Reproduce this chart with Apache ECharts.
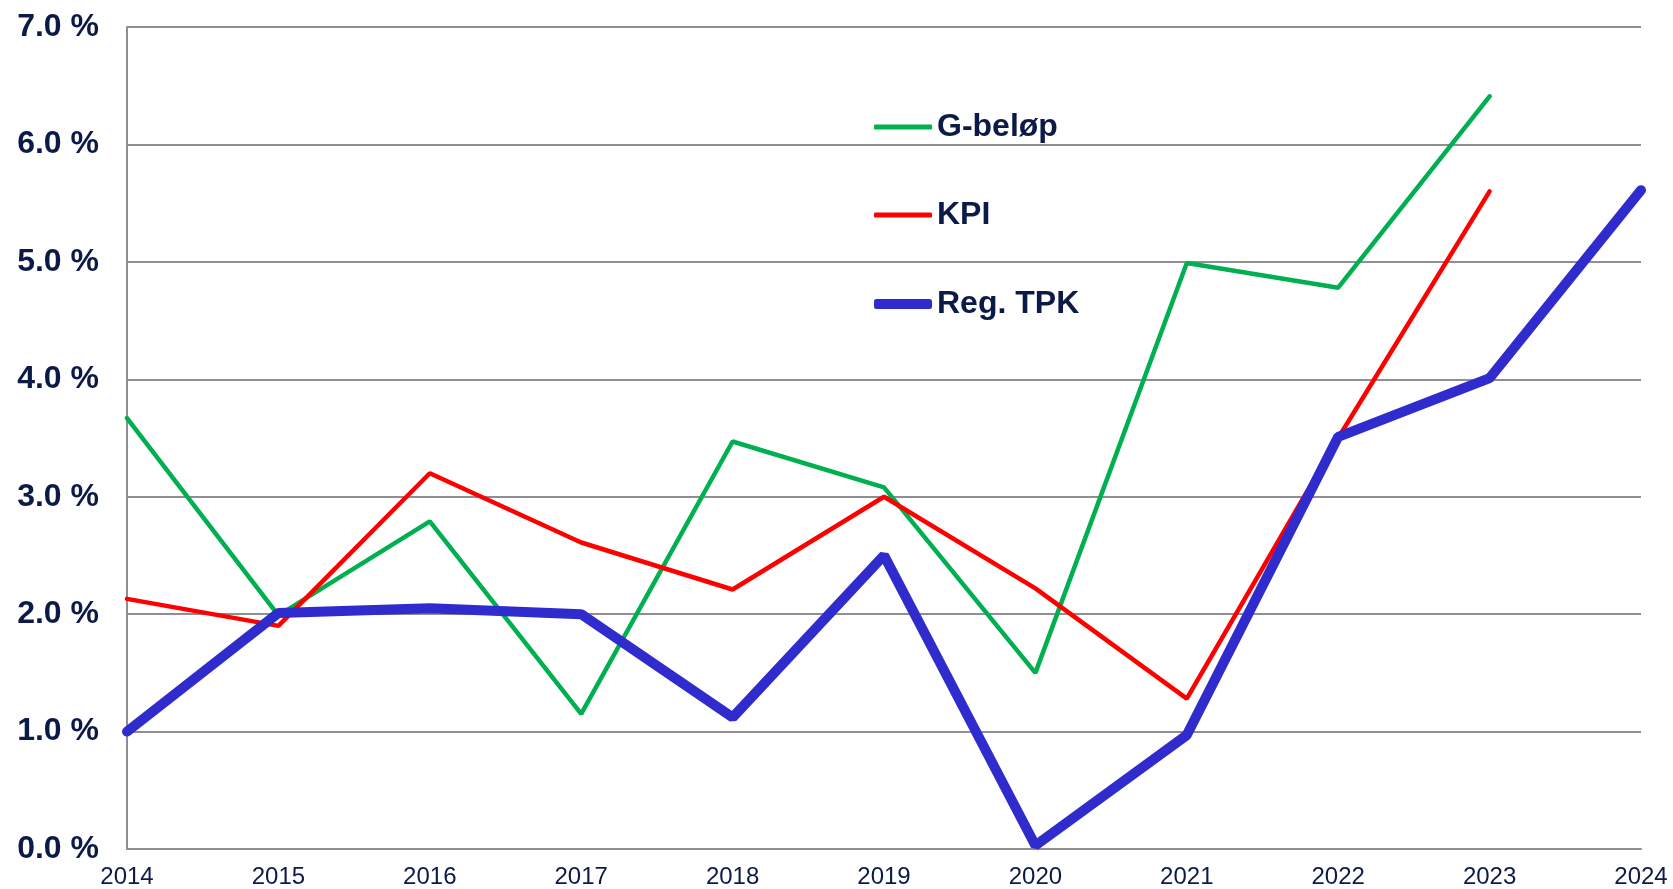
<!DOCTYPE html>
<html>
<head>
<meta charset="utf-8">
<title>G-beløp, KPI og Reg. TPK</title>
<script src="https://cdn.jsdelivr.net/npm/echarts@6/dist/echarts.min.js"></script>
<style>
  html, body { margin: 0; padding: 0; background: #fff; }
  #chart { width: 1673px; height: 889px; }
</style>
</head>
<body>
<div id="chart"></div>
<script>
// årstall på x-aksen
const years = ['2014', '2015', '2016', '2017', '2018', '2019', '2020', '2021', '2022', '2023', '2024']

// årlig vekst i prosent
const gBelop = [3.67, 1.99, 2.79, 1.15, 3.47, 3.08, 1.50, 4.99, 4.78, 6.41, null]
const kpi = [2.13, 1.90, 3.20, 2.61, 2.21, 3.00, 2.22, 1.28, 3.50, 5.60, null]
const regTpk = [1.00, 2.01, 2.05, 2.00, 1.12, 2.50, 0.03, 0.97, 3.51, 4.01, 5.61]

const seriesNames = ['G-beløp', 'KPI', 'Reg. TPK']

const navy = '#0c1a48'
const gridGray = '#8e8e93'
const fontFamily = '"Liberation Sans", Arial, sans-serif'

const chart = echarts.init(document.getElementById('chart'))

// én legende per serie slik at strektykkelsen kan følge linjen
function legendFor(name, top, height) {
  return {
    data: [name],
    left: 869,
    top: top,
    icon: 'roundRect',
    itemWidth: 58,
    itemHeight: height,
    selectedMode: false,
    textStyle: {
      color: navy,
      fontSize: 32,
      fontWeight: 'bold',
      fontFamily: fontFamily
    }
  }
}

const option = {
  animation: false,
  backgroundColor: '#fff',
  legend: [
    legendFor(seriesNames[0], 106, 5),
    legendFor(seriesNames[1], 194, 5),
    legendFor(seriesNames[2], 283, 10)
  ],
  grid: {
    left: 127,
    right: 32,
    top: 27,
    bottom: 39,
    containLabel: false
  },
  xAxis: {
    type: 'category',
    data: years,
    boundaryGap: false,
    axisLine: { lineStyle: { color: gridGray, width: 2 } },
    axisTick: { show: false },
    axisLabel: {
      color: navy,
      fontSize: 24,
      fontFamily: fontFamily,
      margin: 16,
      interval: 0
    },
    splitLine: { show: false }
  },
  yAxis: {
    type: 'value',
    min: 0,
    max: 7,
    interval: 1,
    axisLine: { show: true, lineStyle: { color: gridGray, width: 2 } },
    axisTick: { show: false },
    axisLabel: {
      color: navy,
      fontSize: 32,
      fontWeight: 'bold',
      fontFamily: fontFamily,
      margin: 28,
      formatter: v => v.toFixed(1) + ' %'
    },
    splitLine: { lineStyle: { color: gridGray, width: 2 } }
  },
  series: [
    {
      name: seriesNames[0],
      type: 'line',
      data: gBelop,
      showSymbol: false,
      color: '#00b050',
      lineStyle: { width: 4.5, cap: 'round' }
    },
    {
      name: seriesNames[1],
      type: 'line',
      data: kpi,
      showSymbol: false,
      color: '#ff0000',
      lineStyle: { width: 4.5, cap: 'round' }
    },
    {
      name: seriesNames[2],
      type: 'line',
      data: regTpk,
      showSymbol: false,
      color: '#302bcc',
      lineStyle: { width: 10, cap: 'round' }
    }
  ]
}

chart.setOption(option)
</script>
</body>
</html>
